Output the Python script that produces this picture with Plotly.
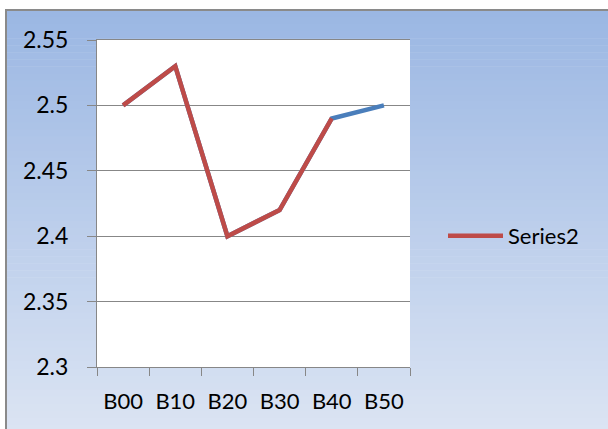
import plotly.graph_objects as go

categories = ["B00", "B10", "B20", "B30", "B40", "B50"]
series1 = [2.50, 2.53, 2.40, 2.42, 2.49, 2.50]
series2 = [2.50, 2.53, 2.40, 2.42, 2.49, None]
y_ticks = [2.3, 2.35, 2.4, 2.45, 2.5, 2.55]
y_tick_labels = ["2.3", "2.35", "2.4", "2.45", "2.5", "2.55"]

W, H = 608, 429
L, R, T, B = 97, 410, 40, 367  # plot area in pixels


def px(x):
    return (x - L) / (R - L)


def py(y):
    return (B - y) / (B - T)


FONT = "Lato"
GRAY = "#878787"

fig = go.Figure()
fig.add_trace(go.Scatter(x=categories, y=series1, mode="lines", name="Series1",
                         line=dict(color="#4A7EBB", width=4.5), showlegend=False))
fig.add_trace(go.Scatter(x=categories, y=series2, mode="lines", name="Series2",
                         line=dict(color="#BE4B48", width=4.5)))

shapes = []
# gradient background inside chart border
top_c = (155, 183, 227)
bot_c = (219, 228, 243)
y0, y1 = 10, 432
n = 60
for i in range(n):
    a = y0 + (y1 - y0) * i / n
    b = y0 + (y1 - y0) * (i + 1) / n + 0.6
    t = i / (n - 1)
    c = tuple(round(top_c[k] + (bot_c[k] - top_c[k]) * t) for k in range(3))
    shapes.append(dict(type="rect", xref="paper", yref="paper", layer="below",
                       x0=px(6), x1=px(615), y0=py(a), y1=py(b),
                       fillcolor="rgb(%d,%d,%d)" % c, line=dict(width=0)))
# border
shapes.append(dict(type="rect", xref="paper", yref="paper", layer="below",
                   x0=px(6), x1=px(620), y0=py(10), y1=py(440),
                   fillcolor="rgba(0,0,0,0)", line=dict(color="#8A8A8A", width=2)))
# plot area
shapes.append(dict(type="rect", xref="paper", yref="paper", layer="below",
                   x0=0, x1=1, y0=0, y1=1, fillcolor="white", line=dict(width=0)))

fig.update_layout(
    width=W, height=H,
    margin=dict(l=L, r=W - R, t=T, b=H - B, pad=0),
    paper_bgcolor="white", plot_bgcolor="white",
    font=dict(family=FONT, size=22, color="#000000"),
    shapes=shapes,
    showlegend=True,
    legend=dict(x=px(443), y=py(236), xanchor="left", yanchor="middle",
                bgcolor="rgba(0,0,0,0)", font=dict(family=FONT, size=22),
                itemwidth=55),
    xaxis=dict(type="category", range=[-0.5, 5.5], showgrid=False,
               showline=True, linecolor=GRAY, linewidth=1, mirror=True,
               ticks="outside", tickson="boundaries", ticklen=8, tickcolor=GRAY,
               ticklabelstandoff=15,
               tickfont=dict(family=FONT, size=22), zeroline=False),
    yaxis=dict(range=[2.3, 2.55], tickvals=y_ticks, ticktext=y_tick_labels,
               showgrid=True, gridcolor=GRAY, gridwidth=1,
               showline=True, linecolor=GRAY, linewidth=1,
               ticks="outside", ticklen=9, tickcolor=GRAY,
               ticklabelstandoff=14,
               tickfont=dict(family=FONT, size=23), zeroline=False),
)

fig.write_html("out.html", config={"displayModeBar": False},
               post_script="document.body.style.margin='0';document.body.style.overflow='hidden';")
